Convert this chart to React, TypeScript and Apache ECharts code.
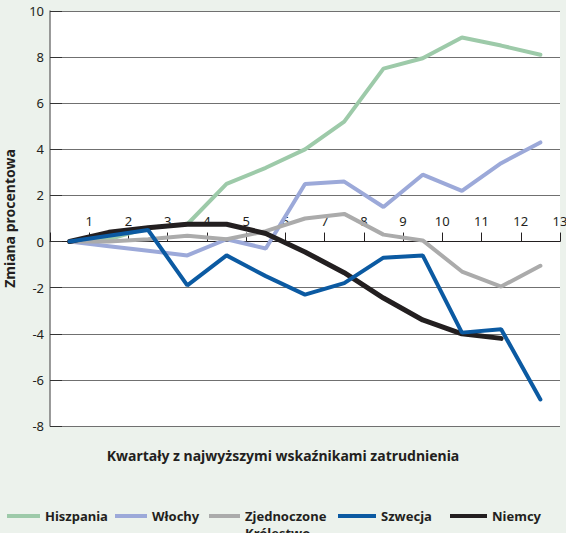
import React, { useEffect, useRef } from "react";
import * as echarts from "echarts";

// Quarter positions (points sit between the numbered ticks)
const quarterPositions = [0.5, 1.5, 2.5, 3.5, 4.5, 5.5, 6.5, 7.5, 8.5, 9.5, 10.5, 11.5, 12.5];
const xTickLabels = ["1", "2", "3", "4", "5", "6", "7", "8", "9", "10", "11", "12", "13"];
const yTickValues = [-8, -6, -4, -2, 0, 2, 4, 6, 8, 10];

const seriesNames = ["Hiszpania", "Włochy", "Zjednoczone Królestwo", "Szwecja", "Niemcy"];
const hiszpania = [0, 0.1, 0.6, 0.75, 2.5, 3.2, 4.0, 5.2, 7.5, 7.95, 8.85, 8.5, 8.1];
const wlochy = [0, -0.2, -0.4, -0.6, 0.1, -0.3, 2.5, 2.6, 1.5, 2.9, 2.2, 3.4, 4.3];
const zjednoczoneKrolestwo = [0, 0.0, 0.1, 0.25, 0.1, 0.45, 1.0, 1.2, 0.3, 0.05, -1.3, -1.95, -1.05];
const szwecja = [0, 0.25, 0.5, -1.9, -0.6, -1.5, -2.3, -1.8, -0.7, -0.6, -3.95, -3.8, -6.85];
const niemcy = [0, 0.4, 0.6, 0.75, 0.75, 0.35, -0.45, -1.35, -2.45, -3.4, -4.0, -4.2];

const seriesValues = [hiszpania, wlochy, zjednoczoneKrolestwo, szwecja, niemcy];
const seriesColors = ["#9dcaa9", "#9ca9d9", "#ababab", "#0b5aa2", "#231f20"];
const seriesWidths = [4, 4, 4, 4, 5];
const drawOrder = [0, 1, 2, 4, 3];

const legendLefts = [7, 115, 209, 338, 450];
const legendWidths = [33, 32, 31, 38, 37];

const FONT = '"Noto Sans", "DejaVu Sans", sans-serif';
const TEXT = "#231f20";

const GRID_TOP = 11;
const GRID_BOTTOM = 107;
const CHART_H = 533;

export default function App() {
  const ref = useRef<HTMLDivElement>(null);
  useEffect(() => {
    document.body.style.margin = "0";
    if (!ref.current) return;
    const chart = echarts.init(ref.current, undefined, { renderer: "svg" });
    const yMin = yTickValues[0];
    const yMax = yTickValues[yTickValues.length - 1];
    const gridH = CHART_H - GRID_TOP - GRID_BOTTOM;
    const zeroOffset = (gridH * yMax) / (yMax - yMin);
    const series = drawOrder.map((i) => ({
      name: seriesNames[i],
      type: "line",
      data: seriesValues[i].map((v, k) => [quarterPositions[k], v]),
      symbol: "none",
      showSymbol: false,
      z: 3 + drawOrder.indexOf(i),
      lineStyle: { color: seriesColors[i], width: seriesWidths[i], cap: "round" },
      itemStyle: { color: seriesColors[i] },
    }));
    chart.setOption({
      animation: false,
      backgroundColor: "transparent",
      grid: {
        left: 50,
        right: 6,
        top: GRID_TOP,
        bottom: GRID_BOTTOM,
        show: true,
        backgroundColor: "#ffffff",
        borderWidth: 0,
        containLabel: false,
        outerBoundsMode: "none",
      },
      xAxis: {
        type: "value",
        position: "top",
        offset: -zeroOffset,
        min: 0,
        max: 13,
        interval: 1,
        axisLine: { onZero: false, lineStyle: { color: TEXT, width: 1 } },
        axisTick: { inside: false, length: 9, lineStyle: { color: TEXT } },
        axisLabel: {
          margin: 14,
          fontSize: 13,
          fontFamily: FONT,
          color: TEXT,
          formatter: (v: number) => (v >= 1 && v <= 13 ? xTickLabels[v - 1] : ""),
        },
        splitLine: { show: false },
      },
      yAxis: {
        type: "value",
        min: yMin,
        max: yMax,
        interval: 2,
        name: "Zmiana procentowa",
        nameLocation: "middle",
        nameRotate: 90,
        nameGap: 34,
        nameTextStyle: { fontSize: 14, fontWeight: "bold", fontFamily: FONT, color: TEXT },
        axisLine: { show: true, onZero: false, lineStyle: { color: "#7a7a7a", width: 1.5 } },
        axisTick: { show: true, inside: true, length: 12, lineStyle: { color: "#333" } },
        axisLabel: { fontSize: 13, fontFamily: FONT, color: TEXT, margin: 6 },
        splitLine: { show: true, lineStyle: { color: "#707070", width: 1 } },
      },
      legend: seriesNames.map((n, i) => ({
        data: [n],
        left: legendLefts[i],
        top: n === "Zjednoczone Królestwo" ? 490.5 : 507.5,
        padding: 0,
        orient: "horizontal",
        icon: "rect",
        itemWidth: legendWidths[i],
        itemHeight: 4,
        selectedMode: false,
        formatter: n === "Zjednoczone Królestwo" ? "\nZjednoczone\nKrólestwo" : n,
        textStyle: {
          fontSize: 13,
          fontWeight: "bold",
          fontFamily: FONT,
          color: TEXT,
          lineHeight: 17,
        },
      })),
      graphic: [
        {
          type: "text",
          x: 283,
          y: 455,
          style: {
            text: "Kwartały z najwyższymi wskaźnikami zatrudnienia",
            font: `bold 14px ${FONT}`,
            fill: TEXT,
            textAlign: "center",
            textVerticalAlign: "middle",
          },
        },
      ],
      series,
    });
    return () => chart.dispose();
  }, []);
  return <div ref={ref} style={{ width: 566, height: 533, background: "#ecf2ec" }} />;
}
